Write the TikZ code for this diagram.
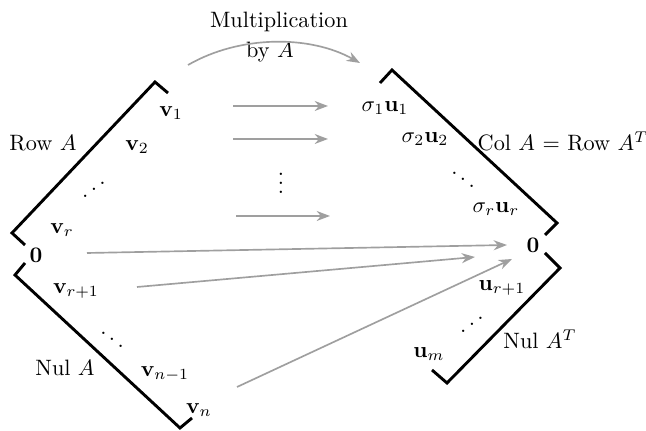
\documentclass[tikz,border=0pt]{standalone}
\usepackage{amsmath,amssymb}
\usepackage{tikz}
\usepackage{xcolor}
\usetikzlibrary{arrows.meta}

\tikzset{
  space/.style={line width=1.3pt,black},
  map/.style={gray!75,line width=0.75pt,-{Stealth[length=6pt,width=4.5pt]}},
}

\begin{document}
\begin{tikzpicture}[x=0.158mm,y=-0.158mm]
\useasboundingbox (0,0) rectangle (646,431);
\draw[space] (25,245) -- (12,233) -- (155,82) -- (168,93);
\draw[space] (25,263) -- (15,275) -- (180,428) -- (192,418);
\draw[space] (380,83) -- (392,70) -- (557,223) -- (545,235);
\draw[space] (545,253) -- (560,268) -- (447,383) -- (432,370);
\node (mult) at (279,22) {Multiplication};
\node (by) at (270,52) {by $A$};
\draw[map] (188,65) .. controls (240,35) and (310,35) .. (360,63);
\node (rowA) at (43,143) {Row $A$};
\node (v1) at (171,113) {$\mathbf{v}_1$};
\node (v2) at (137,147) {$\mathbf{v}_2$};
\node (ld) at (94,183) {\reflectbox{$\ddots$}};
\node (vr) at (62,230) {$\mathbf{v}_r$};
\node (zl) at (36,255) {$\mathbf{0}$};
\node (vr1) at (76,291) {$\mathbf{v}_{r+1}$};
\node (ld2) at (112,333) {$\ddots$};
\node (nulA) at (65,368) {Nul $A$};
\node (vn1) at (165,374) {$\mathbf{v}_{n-1}$};
\node (vn) at (199,410) {$\mathbf{v}_n$};
\node (su1) at (385,108) {$\sigma_1\mathbf{u}_1$};
\node (su2) at (425,139) {$\sigma_2\mathbf{u}_2$};
\node (rd) at (463,173) {$\ddots$};
\node (sur) at (496,209) {$\sigma_r\mathbf{u}_r$};
\node (colA) at (563,141) {Col $A$ = Row $A^T$};
\node (zr) at (533,245) {$\mathbf{0}$};
\node (ur1) at (502,288) {$\mathbf{u}_{r+1}$};
\node (rd2) at (472,318) {\reflectbox{$\ddots$}};
\node (nulAT) at (540,339) {Nul $A^T$};
\node (um) at (429,354) {$\mathbf{u}_m$};
\node (vd) at (281,177) {$\vdots$};
\coordinate (a1) at (233,106);
\coordinate (b1) at (328,106);
\coordinate (a2) at (233,139);
\coordinate (b2) at (328,139);
\coordinate (a3) at (236,216);
\coordinate (b3) at (330,216);
\coordinate (c1) at (87,253);
\coordinate (c2) at (137,287);
\coordinate (c3) at (237,387);
\coordinate (d1) at (507,245);
\coordinate (d2) at (475,257);
\coordinate (d3) at (512,259);
\draw[map] (a1) -- (b1);
\draw[map] (a2) -- (b2);
\draw[map] (a3) -- (b3);
\draw[map] (c1) -- (d1);
\draw[map] (c2) -- (d2);
\draw[map] (c3) -- (d3);
\end{tikzpicture}
\end{document}
